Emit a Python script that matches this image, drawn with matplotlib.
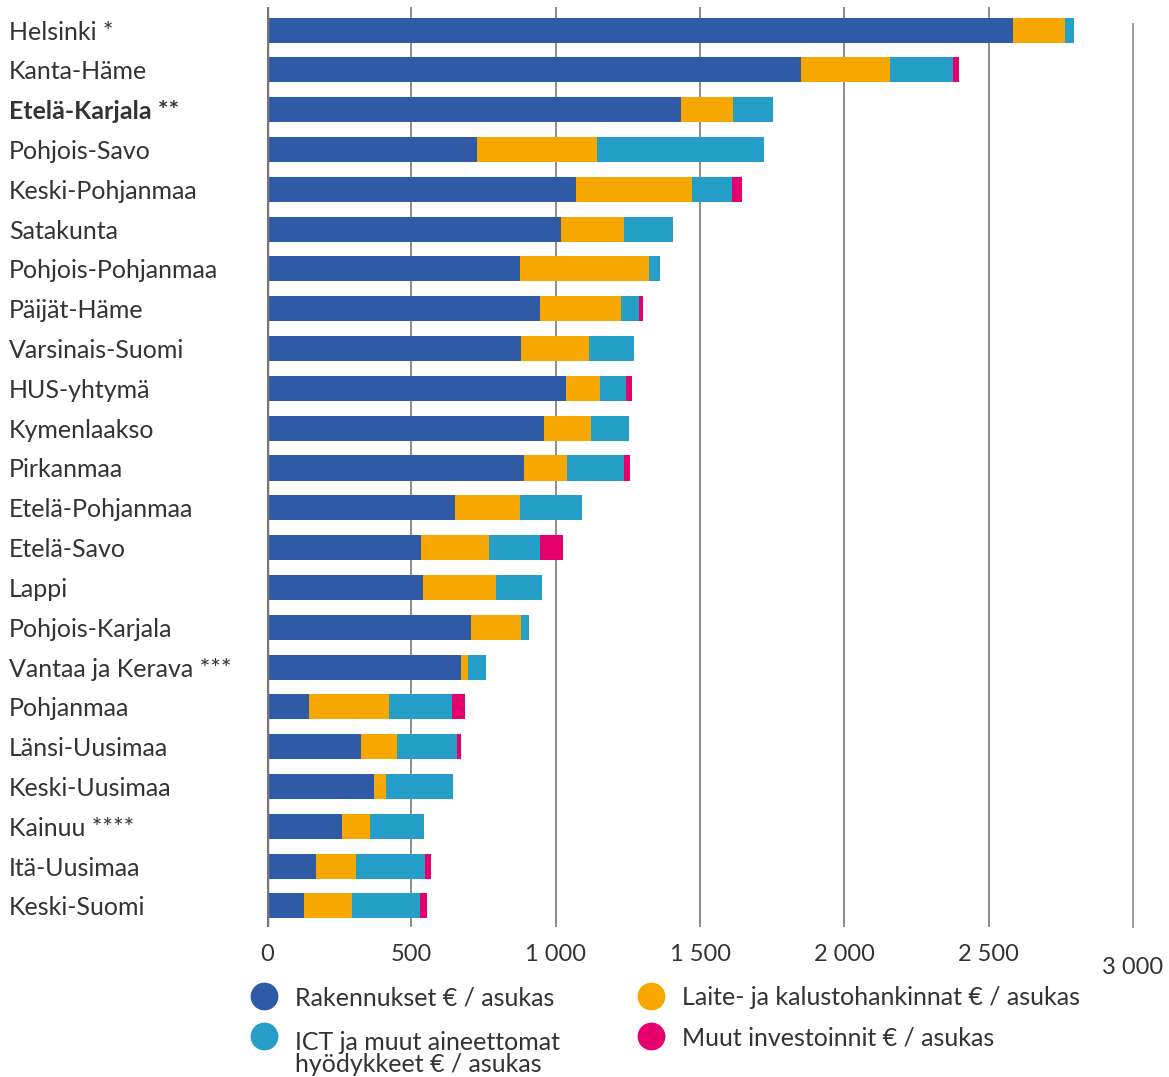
import matplotlib
matplotlib.use("Agg")
import matplotlib.pyplot as plt
import matplotlib.transforms as mtransforms
from matplotlib.lines import Line2D
import numpy as np

plt.rcParams['font.family'] = ['Lato', 'DejaVu Sans']

# data (euro / resident)
alueet = ["Helsinki *", "Kanta-Häme", "Etelä-Karjala **", "Pohjois-Savo",
          "Keski-Pohjanmaa", "Satakunta", "Pohjois-Pohjanmaa", "Päijät-Häme",
          "Varsinais-Suomi", "HUS-yhtymä", "Kymenlaakso", "Pirkanmaa",
          "Etelä-Pohjanmaa", "Etelä-Savo", "Lappi", "Pohjois-Karjala",
          "Vantaa ja Kerava ***", "Pohjanmaa", "Länsi-Uusimaa", "Keski-Uusimaa",
          "Kainuu ****", "Itä-Uusimaa", "Keski-Suomi"]
rakennukset = [2585, 1851, 1433, 727, 1069, 1017, 875, 945, 879, 1035, 958, 889,
               651, 533, 540, 706, 671, 145, 325, 370, 260, 170, 128]
laitteet = [180, 308, 183, 415, 405, 218, 447, 280, 235, 117, 163, 149,
            224, 235, 252, 173, 25, 277, 125, 42, 96, 138, 166]
ict = [31, 218, 138, 581, 138, 173, 41, 62, 159, 90, 132, 197,
       215, 177, 160, 28, 62, 218, 207, 232, 187, 239, 235]
muut = [0, 21, 0, 0, 32, 0, 0, 17, 0, 24, 0, 21,
        0, 79, 0, 0, 0, 45, 14, 0, 0, 20, 25]
sarjat = ["Rakennukset € / asukas", "ICT ja muut aineettomat\nhyödykkeet € / asukas",
          "Laite- ja kalustohankinnat € / asukas", "Muut investoinnit € / asukas"]
ticks = [0, 500, 1000, 1500, 2000, 2500]
tick_labels = ["0", "500", "1 000", "1 500", "2 000", "2 500"]

c_blue = "#2f5aa6"
c_orange = "#f6a800"
c_cyan = "#259fc8"
c_pink = "#e5006e"
txt = "#333333"

fig = plt.figure(figsize=(11.69, 10.77), dpi=100)
W, H = 1169, 1077
ax = fig.add_axes([267 / W, 1 - 927 / H, (1133 - 267) / W, (927 - 7) / H])

y = np.arange(len(alueet))
h = 0.63
left = np.zeros(len(alueet))
for vals, col in [(rakennukset, c_blue), (laitteet, c_orange), (ict, c_cyan), (muut, c_pink)]:
    ax.barh(y, vals, left=left, height=h, color=col, zorder=3)
    left = left + np.array(vals)

ax.set_xlim(0, 3000)
ax.set_ylim(22.53, -0.58)

for t in ticks[1:]:
    ax.axvline(t, color="#8c8c8c", lw=1.4, zorder=1)
ax.axvline(3000, ymin=0, ymax=1 - 17 / 920, color="#a0a0a0", lw=1.4, zorder=1, clip_on=False)
ax.axvline(0, color="#777777", lw=2.5, zorder=4)

for s in ax.spines.values():
    s.set_visible(False)

ax.set_yticks(y)
ax.set_yticklabels(alueet, fontsize=18, color=txt)
for lab in ax.get_yticklabels():
    lab.set_horizontalalignment("left")
    if lab.get_text().startswith("Etelä-Karjala"):
        lab.set_fontweight("bold")
ax.tick_params(axis="y", length=0, pad=(267 - 9) * 0.72)

ax.set_xticks(ticks)
ax.set_xticklabels(tick_labels, fontsize=17, color=txt)
ax.tick_params(axis="x", length=0, pad=12)
trans = mtransforms.blended_transform_factory(ax.transData, fig.transFigure)
ax.text(3000, 1 - 967 / H, "3 000", fontsize=17, color=txt, ha="center", va="center",
        transform=trans)

# legend, drawn by hand: (x, y of marker, baseline of last line)
leg = [(264, 996, 1005, c_blue, sarjat[0]), (264, 1036, 1072, c_cyan, sarjat[1]),
       (651, 996, 1005, c_orange, sarjat[2]), (651, 1036, 1045, c_pink, sarjat[3])]
for px, py, base, col, lab in leg:
    fig.add_artist(Line2D([px / W], [1 - py / H], marker="o", markersize=19,
                          color=col, linestyle="none", transform=fig.transFigure))
    fig.text((px + 31) / W, 1 - base / H, lab, fontsize=18, color=txt,
             ha="left", va="baseline", linespacing=0.95)

fig.savefig("out.png", dpi=100)
